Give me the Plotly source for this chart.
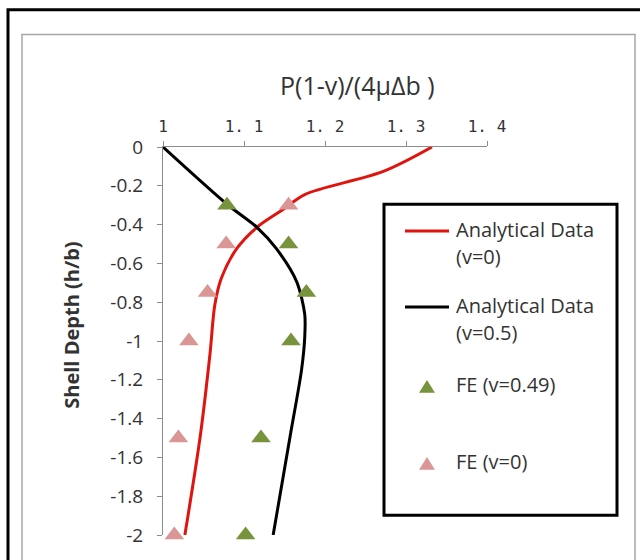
import plotly.graph_objects as go

# ---- data ----
red_x = [1.332, 1.272, 1.175, 1.149, 1.116, 1.091, 1.072, 1.064, 1.058, 1.046, 1.027]
red_y = [0.0, -0.126, -0.245, -0.32, -0.414, -0.524, -0.677, -0.813, -1.067, -1.49, -2.0]
blk_x = [1.0, 1.079, 1.116, 1.140, 1.165, 1.175, 1.175, 1.171, 1.157, 1.136]
blk_y = [0.0, -0.295, -0.414, -0.524, -0.694, -0.863, -0.98, -1.15, -1.49, -2.0]
fe49_x = [1.079, 1.155, 1.177, 1.158, 1.121, 1.102]
fe49_y = [-0.3, -0.5, -0.75, -1.0, -1.5, -2.0]
fe0_x = [1.155, 1.078, 1.055, 1.032, 1.019, 1.014]
fe0_y = [-0.3, -0.5, -0.75, -1.0, -1.5, -2.0]
x_ticks = [1.0, 1.1, 1.2, 1.3, 1.4]
x_ticktext = ["1", "1. 1", "1. 2", "1. 3", "1. 4"]
y_ticks = [0, -0.2, -0.4, -0.6, -0.8, -1, -1.2, -1.4, -1.6, -1.8, -2]
y_ticktext = ["0", "-0.2", "-0.4", "-0.6", "-0.8", "-1", "-1.2", "-1.4", "-1.6", "-1.8", "-2"]

RED = "#E0140F"
BLACK = "#000000"
GREEN = "#77933C"
PINK = "#D99694"
TXT = "#333333"
SANS = "Open Sans, Noto Sans, sans-serif"

W, H = 640, 560
L, R, T, B = 163, 153, 147, 20
PW, PH = W - L - R, H - T - B

def px(x):
    return (x - L) / PW

def py(y):
    return (H - B - y) / PH

fig = go.Figure()
fig.add_trace(go.Scatter(x=red_x, y=red_y, mode="lines", line=dict(color=RED, width=3, shape="spline", smoothing=0.9), showlegend=False))
fig.add_trace(go.Scatter(x=blk_x, y=blk_y, mode="lines", line=dict(color=BLACK, width=3, shape="spline", smoothing=0.8), showlegend=False))
fig.add_trace(go.Scatter(x=fe49_x, y=fe49_y, mode="markers", marker=dict(symbol="triangle-up", size=17, color=GREEN), showlegend=False, cliponaxis=False))
fig.add_trace(go.Scatter(x=fe0_x, y=fe0_y, mode="markers", marker=dict(symbol="triangle-up", size=17, color=PINK), showlegend=False, cliponaxis=False))

shapes = []
# outer frames
shapes.append(dict(type="rect", xref="paper", yref="paper", x0=px(8), x1=px(660), y0=py(660), y1=py(8), line=dict(color="black", width=3), layer="below"))
shapes.append(dict(type="rect", xref="paper", yref="paper", x0=px(22), x1=px(635), y0=py(640), y1=py(33), line=dict(color="#A6A6A6", width=1.5), layer="below"))
# legend box
shapes.append(dict(type="rect", xref="paper", yref="paper", x0=px(384), x1=px(617), y0=py(520), y1=py(205), line=dict(color="black", width=3), fillcolor="white"))
# legend line samples
for yy, c in [(232, RED), (309, BLACK)]:
    shapes.append(dict(type="line", xref="paper", yref="paper", x0=px(405), x1=px(449), y0=py(yy), y1=py(yy), line=dict(color=c, width=3)))
# legend triangles
for yy, c in [(390, GREEN), (468, PINK)]:
    cx = 427
    path = f"M {px(cx-8)} {py(yy+6)} L {px(cx+8)} {py(yy+6)} L {px(cx)} {py(yy-7)} Z"
    shapes.append(dict(type="path", xref="paper", yref="paper", path=path, fillcolor=c, line=dict(width=0)))

ann = []
LF = dict(family=SANS, size=20, color=TXT)
for txt, yy in [("Analytical Data", 231), ("(v=0)", 258), ("Analytical Data", 308), ("(v=0.5)", 335), ("FE (v=0.49)", 388), ("FE (v=0)", 466)]:
    ann.append(dict(xref="paper", yref="paper", x=px(454), y=py(yy), text=txt, showarrow=False, xanchor="left", yanchor="middle", font=LF))
ann.append(dict(xref="paper", yref="paper", x=px(357), y=py(84), text="P(1-v)/(4μΔb )", showarrow=False, xanchor="center", yanchor="middle",
                font=dict(family=SANS, size=25, color=TXT)))
ann.append(dict(xref="paper", yref="paper", x=px(72), y=py(327), text="<b>Shell Depth (h/b)</b>", showarrow=False, textangle=-90,
                xanchor="center", yanchor="middle", font=dict(family=SANS, size=20, color=TXT)))

fig.update_layout(
    width=W, height=H, margin=dict(l=L, r=R, t=T, b=B),
    paper_bgcolor="white", plot_bgcolor="white",
    shapes=shapes, annotations=ann,
    xaxis=dict(side="top", range=[1, 1.4], tickvals=x_ticks, ticktext=x_ticktext, showgrid=False, zeroline=False,
               showline=True, linecolor="#8C8C8C", linewidth=1, ticks="outside", ticklen=5, tickcolor="#8C8C8C",
               tickfont=dict(family="DejaVu Sans Mono, monospace", size=16, color=TXT), ticklabelstandoff=3),
    yaxis=dict(range=[-2, 0], tickvals=y_ticks, ticktext=y_ticktext, showgrid=False, zeroline=False,
               showline=True, linecolor="#8C8C8C", linewidth=1, ticks="outside", ticklen=5, tickcolor="#8C8C8C",
               tickfont=dict(family=SANS, size=19, color=TXT), ticklabelstandoff=10),
    showlegend=False,
)
fig.write_html("out.html")
